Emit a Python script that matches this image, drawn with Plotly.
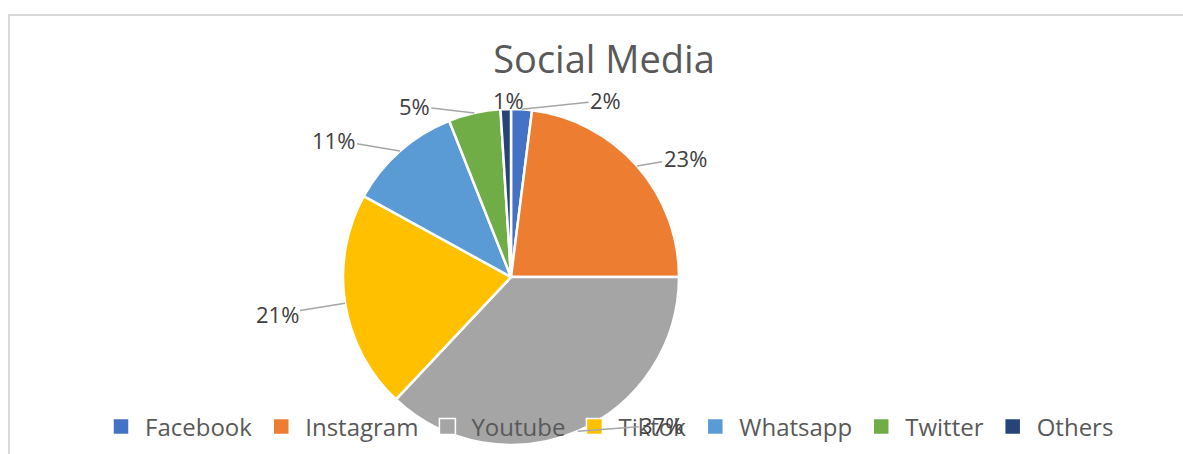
import math
import plotly.graph_objects as go

labels = ["Facebook", "Instagram", "Youtube", "Tiktok", "Whatsapp", "Twitter", "Others"]
values = [2, 23, 37, 21, 11, 5, 1]
colors = ["#4472C4", "#ED7D31", "#A5A5A5", "#FFC000", "#5B9BD5", "#70AD47", "#264478"]

# label placement offsets (pixels from slice edge to text centre) - styling only
label_offsets = [(84, -9), (48, -8), (84, -6), (-68, 11), (-66, -11), (-60, -7), (3, -9)]

W, H = 1183, 454
cx, cy, r = 511, 277, 168

fig = go.Figure()
fig.add_trace(go.Pie(
    labels=labels,
    values=values,
    sort=False,
    direction="clockwise",
    rotation=0,
    marker=dict(colors=colors, line=dict(color="white", width=2.5)),
    textinfo="none",
    domain=dict(x=[(cx - r) / W, (cx + r) / W], y=[(H - cy - r) / H, (H - cy + r) / H]),
    hoverinfo="label+percent",
    showlegend=False,
))

# legend entries
for lab, col in zip(labels, colors):
    fig.add_trace(go.Scatter(x=[None], y=[None], mode="markers", name=lab,
                             marker=dict(symbol="square", size=16, color=col,
                                         line=dict(color="white", width=1.5)),
                             showlegend=True))

# percentage labels with leader lines, positioned from slice mid-angles
total = sum(values)
annotations = []
cum = 0
for v, (ox, oy) in zip(values, label_offsets):
    mid = (cum + v / 2) / total * 2 * math.pi
    cum += v
    px = cx + r * math.sin(mid)
    py = cy - r * math.cos(mid)
    annotations.append(dict(
        x=px / W, y=(H - py) / H, xref="paper", yref="paper",
        text=f"{round(v / total * 100)}%", showarrow=True, arrowhead=0, arrowwidth=1.5,
        arrowcolor="#A6A6A6", ax=ox, ay=oy, standoff=0, startstandoff=0,
        font=dict(family="Open Sans", size=22, color="#404040"),
    ))

fig.update_layout(
    width=W, height=H,
    margin=dict(l=0, r=0, t=0, b=0),
    paper_bgcolor="white",
    plot_bgcolor="rgba(0,0,0,0)",
    xaxis=dict(visible=False),
    yaxis=dict(visible=False),
    title=dict(text="Social Media", x=604 / W, xanchor="center", y=(H - 60) / H, yanchor="middle",
               font=dict(family="Open Sans", size=38, color="#595959")),
    legend=dict(orientation="h", x=608 / W, xanchor="center", y=(H - 427) / H, yanchor="middle",
                bgcolor="rgba(0,0,0,0)", font=dict(family="Open Sans", size=24, color="#595959"),
                traceorder="normal", itemwidth=38),
    annotations=annotations,
    shapes=[dict(type="rect", xref="paper", yref="paper", x0=9 / W, x1=1.02, y0=-0.02, y1=(H - 15) / H,
                 line=dict(color="#D9D9D9", width=2), fillcolor="rgba(0,0,0,0)", layer="below")],
)

fig.write_html("out.html")
